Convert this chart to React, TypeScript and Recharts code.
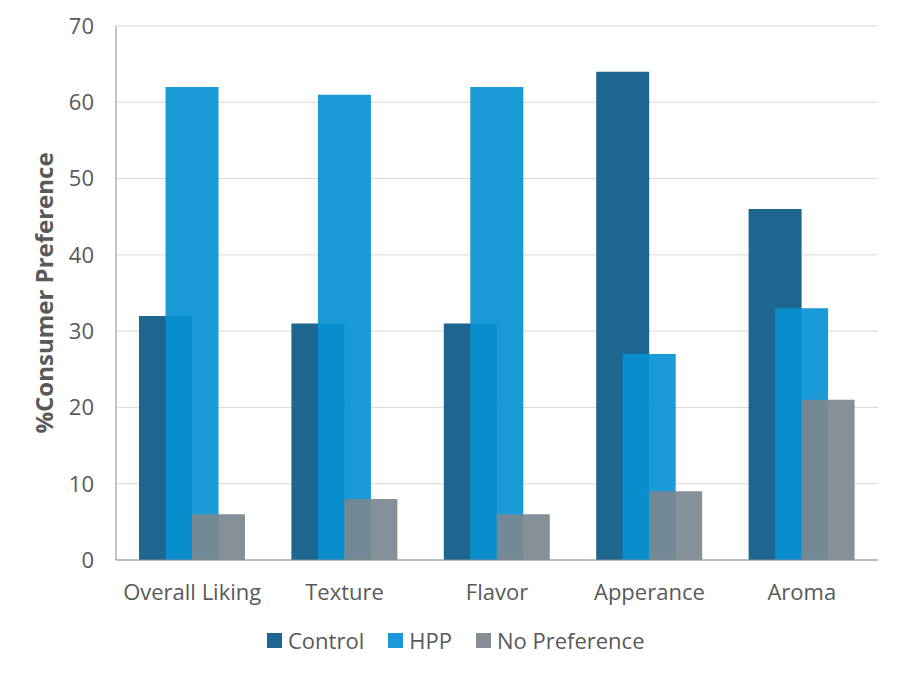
import React from 'react';
import { BarChart, Bar, XAxis, YAxis, CartesianGrid, Legend } from 'recharts';

const categories = ['Overall Liking', 'Texture', 'Flavor', 'Apperance', 'Aroma'];
const control = [32, 31, 31, 64, 46];
const hpp = [62, 61, 62, 27, 33];
const noPreference = [6, 8, 6, 9, 21];
const yTicks = [0, 10, 20, 30, 40, 50, 60, 70];

const data = categories.map((name, i) => ({
  name,
  control: control[i],
  hpp: hpp[i],
  noPreference: noPreference[i],
}));

const FONT = '"Open Sans", "Noto Sans", sans-serif';
const TEXT = '#595959';

const legendItems = [
  { label: 'Control', color: '#1f6591' },
  { label: 'HPP', color: '#1b9ad7' },
  { label: 'No Preference', color: '#868f98' },
];

function LegendContent() {
  return (
    <div style={{ display: 'flex', alignItems: 'center', height: 24, paddingLeft: 267, fontFamily: FONT, fontSize: 22, color: TEXT }}>
      {legendItems.map((it) => (
        <div key={it.label} style={{ display: 'flex', alignItems: 'center', marginRight: 24 }}>
          <span style={{ width: 15, height: 15, background: it.color, display: 'inline-block', marginRight: 6 }} />
          <span>{it.label}</span>
        </div>
      ))}
    </div>
  );
}

export default function App() {
  return (
    <div style={{ position: 'absolute', left: 0, top: 0, width: 901, height: 676, background: '#fff' }}>
      <BarChart
        width={901}
        height={676}
        data={data}
        margin={{ top: 26, right: 23, left: 0, bottom: 42 }}
        barSize={53}
        barGap={-26.5}
      >
        <CartesianGrid vertical={false} stroke="#d9d9d9" />
        <XAxis
          dataKey="name"
          height={50}
          tickLine={false}
          tickSize={0}
          tickMargin={24}
          stroke="#8c8c8c"
          tick={{ fill: TEXT, fontSize: 22, fontFamily: FONT }}
        />
        <YAxis
          width={116}
          domain={[0, 70]}
          ticks={yTicks}
          tickLine={false}
          tickSize={0}
          tickMargin={22}
          stroke="#8c8c8c"
          tick={{ fill: TEXT, fontSize: 22, fontFamily: FONT }}
          label={{
            value: '%Consumer Preference',
            angle: -90,
            position: 'insideLeft',
            offset: 44,
            style: { fill: TEXT, fontSize: 24, fontWeight: 700, fontFamily: FONT, textAnchor: 'middle' },
          }}
        />
        <Legend verticalAlign="bottom" content={<LegendContent />} wrapperStyle={{ bottom: 24 }} />
        <Bar dataKey="control" name="Control" fill="#1c6690" isAnimationActive={false} />
        <Bar dataKey="hpp" name="HPP" fill="#0691d3" fillOpacity={0.92} isAnimationActive={false} />
        <Bar dataKey="noPreference" name="No Preference" fill="#7b878f" fillOpacity={0.92} isAnimationActive={false} />
      </BarChart>
    </div>
  );
}
